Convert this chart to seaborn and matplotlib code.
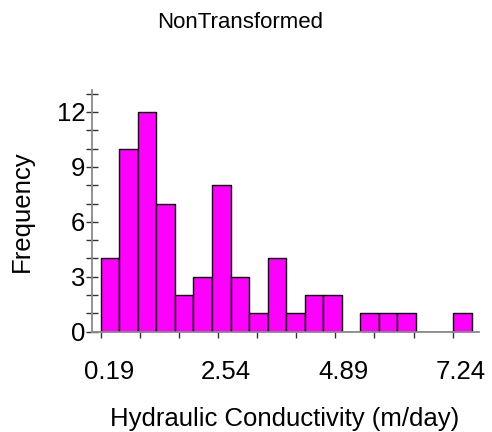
import numpy as np
import pandas as pd
import matplotlib
matplotlib.use("Agg")
import matplotlib.pyplot as plt
import matplotlib.transforms as mtransforms
import seaborn as sns

# ---- data ----
bin_start = 0.19
bin_width = 0.3715
counts = [4, 10, 12, 7, 2, 3, 8, 3, 1, 4, 1, 2, 2, 0, 1, 1, 1, 0, 0, 1]
x_tick_labels = ["0.19", "2.54", "4.89", "7.24"]
x_tick_step = 0.78333
y_major = [0, 3, 6, 9, 12]
y_minor = [1, 2, 4, 5, 7, 8, 10, 11, 13]
title = "NonTransformed"
xlabel = "Hydraulic Conductivity (m/day)"
ylabel = "Frequency"

n_bins = len(counts)
edges = bin_start + bin_width * np.arange(n_bins + 1)
centers = (edges[:-1] + edges[1:]) / 2
df = pd.DataFrame({"k": centers, "n": counts})

sns.set_style("white")
plt.rcParams["font.family"] = ["Liberation Sans", "DejaVu Sans"]
plt.rcParams["text.color"] = "black"
plt.rcParams["xtick.labelcolor"] = "black"
plt.rcParams["ytick.labelcolor"] = "black"

fig = plt.figure(figsize=(4.92, 4.32), dpi=100)
W, H = 492, 432
ax = fig.add_axes([92 / W, 1 - 331.7 / H, (479 - 92) / W, (331.7 - 90) / H])

sns.histplot(data=df, x="k", weights="n", binwidth=bin_width,
             binrange=(edges[0], edges[-1]), color="#FF00FF",
             edgecolor="black", linewidth=1.0, alpha=1.0, ax=ax)

ax.set_xlim(0.0157, 7.768)
ax.set_ylim(0, 13.2)

for s in ["top", "right"]:
    ax.spines[s].set_visible(False)
for s in ["left", "bottom"]:
    ax.spines[s].set_color("#8a8a8a")
    ax.spines[s].set_linewidth(1.3)

# x ticks
all_x = [bin_start + i * x_tick_step for i in range(10)]
major_x = [all_x[i] for i in (0, 3, 6, 9)]
minor_x = [all_x[i] for i in range(10) if i not in (0, 3, 6, 9)]
ax.set_xticks(major_x)
ax.set_xticklabels(x_tick_labels)
ax.set_xticks(minor_x, minor=True)
ax.tick_params(axis="x", which="both", direction="out", length=4.3, width=1.0,
               color="#333333", pad=16, labelsize=18.5, labelcolor="black",
               bottom=True)
offset = mtransforms.ScaledTranslation(8 / 100, 0, fig.dpi_scale_trans)
for lab in ax.get_xticklabels():
    lab.set_transform(lab.get_transform() + offset)

# y ticks
ax.set_yticks(y_major)
ax.set_yticklabels([str(v) for v in y_major])
ax.set_yticks(y_minor, minor=True)
ax.tick_params(axis="y", which="both", direction="inout", length=8.6, width=1.0,
               color="#333333", pad=0.5, labelsize=18.5, labelcolor="black",
               left=True)

ax.set_xlabel("")
ax.set_ylabel("")
fig.text(285 / W, 1 - 426 / H, xlabel, ha="center", va="baseline",
         fontsize=18.5, color="black")
fig.text(22 / W, 1 - 211.5 / H, ylabel, ha="center", va="center",
         rotation=90, fontsize=18.5, color="black")
fig.text(240 / W, 1 - 23 / H, title, ha="center", va="center", fontsize=16,
         color="black")

fig.savefig("out.png", dpi=100)
